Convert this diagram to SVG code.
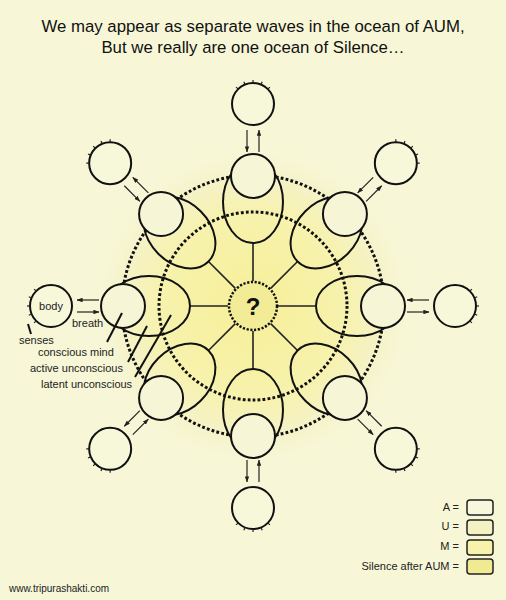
<svg xmlns="http://www.w3.org/2000/svg" width="506" height="600" viewBox="0 0 506 600">
<defs>
<radialGradient id="glow" cx="253" cy="306" r="165" gradientUnits="userSpaceOnUse">
<stop offset="0" stop-color="#F6EF98"/>
<stop offset="0.55" stop-color="#F7F2AC"/>
<stop offset="0.78" stop-color="#F5F2C6"/>
<stop offset="1" stop-color="#F7F7D7" stop-opacity="0"/>
</radialGradient>
<marker id="ah" viewBox="0 0 8 6" refX="7.5" refY="3" markerWidth="6" markerHeight="4.5" orient="auto" markerUnits="userSpaceOnUse">
<path d="M0,0 L8,3 L0,6 Z" fill="#222"/>
</marker>
<style>
.ln{stroke:#111;stroke-width:2;fill:none}
.inA{stroke:#111;stroke-width:2;fill:#F6F5D6}
.outA{stroke:#111;stroke-width:2;fill:#F7F7DA}
.dot{stroke:#111;stroke-width:3;fill:none;stroke-dasharray:2.8 2.2}
.tick{stroke:#222;stroke-width:1.2}
.rad{stroke:#222;stroke-width:1.6}
.arr{stroke:#222;stroke-width:1.2;marker-end:url(#ah)}
.lbl{font-family:"Liberation Sans",Arial,sans-serif;font-size:11px;fill:#222}
.ttl{font-family:"Liberation Sans",Arial,sans-serif;font-size:16.8px;fill:#111;text-anchor:middle}
.ptr{stroke:#111;stroke-width:2}
</style>
<g id="innerShape">
<ellipse cx="253" cy="202" rx="30" ry="41" class="ln"/>
<circle cx="253" cy="176" r="22" class="inA"/>
</g>
<g id="outerShape">
<circle cx="253" cy="104" r="21" class="outA"/>
<g class="tick">
<line x1="253" y1="83" x2="253" y2="80"/>
<line x1="245" y1="84.6" x2="243.8" y2="81.8"/>
<line x1="261" y1="84.6" x2="262.2" y2="81.8"/>
<line x1="238.2" y1="89.2" x2="236.1" y2="87.1"/>
<line x1="267.8" y1="89.2" x2="269.9" y2="87.1"/>
</g>
</g>
</defs>
<rect width="506" height="600" fill="#F7F7D7"/>
<circle cx="253" cy="306" r="165" fill="url(#glow)"/>
<g id="title">
<text class="ttl" x="253" y="32">We may appear as separate waves in the ocean of AUM,</text>
<text class="ttl" x="253" y="53">But we really are one ocean of Silence…</text>
</g>
<g id="rings">
<circle cx="253" cy="306" r="131" class="dot"/>
<circle cx="253" cy="306" r="94" class="dot"/>
</g>
<g id="connectors">
<g id="c0"><line x1="253" y1="281" x2="253" y2="243" class="rad"/><line x1="247" y1="130" x2="247" y2="152" class="arr"/><line x1="259" y1="152" x2="259" y2="130" class="arr"/></g>
<g transform="rotate(45 253 306)"><line x1="253" y1="281" x2="253" y2="243" class="rad"/><line x1="247" y1="130" x2="247" y2="152" class="arr"/><line x1="259" y1="152" x2="259" y2="130" class="arr"/></g>
<g transform="rotate(90 253 306)"><line x1="253" y1="281" x2="253" y2="243" class="rad"/><line x1="247" y1="130" x2="247" y2="152" class="arr"/><line x1="259" y1="152" x2="259" y2="130" class="arr"/></g>
<g transform="rotate(135 253 306)"><line x1="253" y1="281" x2="253" y2="243" class="rad"/><line x1="247" y1="130" x2="247" y2="152" class="arr"/><line x1="259" y1="152" x2="259" y2="130" class="arr"/></g>
<g transform="rotate(180 253 306)"><line x1="253" y1="281" x2="253" y2="243" class="rad"/><line x1="247" y1="130" x2="247" y2="152" class="arr"/><line x1="259" y1="152" x2="259" y2="130" class="arr"/></g>
<g transform="rotate(225 253 306)"><line x1="253" y1="281" x2="253" y2="243" class="rad"/><line x1="247" y1="130" x2="247" y2="152" class="arr"/><line x1="259" y1="152" x2="259" y2="130" class="arr"/></g>
<g transform="rotate(270 253 306)"><line x1="253" y1="281" x2="253" y2="243" class="rad"/><line x1="247" y1="130" x2="247" y2="152" class="arr"/><line x1="259" y1="152" x2="259" y2="130" class="arr"/></g>
<g transform="rotate(315 253 306)"><line x1="253" y1="281" x2="253" y2="243" class="rad"/><line x1="247" y1="130" x2="247" y2="152" class="arr"/><line x1="259" y1="152" x2="259" y2="130" class="arr"/></g>
</g>
<g id="node-center">
<circle cx="253" cy="306" r="24" fill="#F2EC96" stroke="#111" stroke-width="2.5" stroke-dasharray="2.2 1.6"/>
<text x="253" y="315" text-anchor="middle" font-family="Liberation Sans,Arial,sans-serif" font-size="24" font-weight="bold" fill="#111">?</text>
</g>
<g id="node-inner-top"><use href="#innerShape"/></g>
<g id="node-inner-topright"><use href="#innerShape" transform="rotate(45 253 306)"/></g>
<g id="node-inner-right"><use href="#innerShape" transform="rotate(90 253 306)"/></g>
<g id="node-inner-bottomright"><use href="#innerShape" transform="rotate(135 253 306)"/></g>
<g id="node-inner-bottom"><use href="#innerShape" transform="rotate(180 253 306)"/></g>
<g id="node-inner-bottomleft"><use href="#innerShape" transform="rotate(225 253 306)"/></g>
<g id="node-inner-left"><use href="#innerShape" transform="rotate(270 253 306)"/></g>
<g id="node-inner-topleft"><use href="#innerShape" transform="rotate(315 253 306)"/></g>
<g id="node-outer-top"><use href="#outerShape"/></g>
<g id="node-outer-topright"><use href="#outerShape" transform="rotate(45 253 306)"/></g>
<g id="node-outer-right"><use href="#outerShape" transform="rotate(90 253 306)"/></g>
<g id="node-outer-bottomright"><use href="#outerShape" transform="rotate(135 253 306)"/></g>
<g id="node-outer-bottom"><use href="#outerShape" transform="rotate(180 253 306)"/></g>
<g id="node-outer-bottomleft"><use href="#outerShape" transform="rotate(225 253 306)"/></g>
<g id="node-outer-left"><use href="#outerShape" transform="rotate(270 253 306)"/>
<text class="lbl" x="51" y="310" text-anchor="middle">body</text></g>
<g id="node-outer-topleft"><use href="#outerShape" transform="rotate(315 253 306)"/></g>
<g id="labels">
<text class="lbl" x="72" y="327">breath</text>
<line x1="28" y1="324" x2="31" y2="334" class="ptr"/>
<text class="lbl" x="19" y="344">senses</text>
<line x1="122" y1="313" x2="107" y2="342" class="ptr"/>
<text class="lbl" x="38" y="356">conscious mind</text>
<line x1="147" y1="326" x2="128" y2="362" class="ptr"/>
<text class="lbl" x="30" y="372">active unconscious</text>
<line x1="171" y1="315" x2="135" y2="377" class="ptr"/>
<text class="lbl" x="41" y="388">latent unconscious</text>
</g>
<g id="legend">
<text class="lbl" x="459" y="511" text-anchor="end">A =</text>
<rect x="467" y="500" width="26" height="15" rx="3" fill="#F7F7DD" stroke="#222" stroke-width="1.5"/>
<text class="lbl" x="459" y="530" text-anchor="end">U =</text>
<rect x="467" y="520" width="26" height="15" rx="3" fill="#F4F1C2" stroke="#222" stroke-width="1.5"/>
<text class="lbl" x="459" y="550" text-anchor="end">M =</text>
<rect x="467" y="540" width="26" height="15" rx="3" fill="#F6F2AC" stroke="#222" stroke-width="1.5"/>
<text class="lbl" x="459" y="570" text-anchor="end">Silence after AUM =</text>
<rect x="467" y="559" width="26" height="15" rx="3" fill="#F0EA92" stroke="#222" stroke-width="1.5"/>
</g>
<text id="url" x="9" y="592" font-family="Liberation Sans,Arial,sans-serif" font-size="10" fill="#222">www.tripurashakti.com</text>
</svg>
